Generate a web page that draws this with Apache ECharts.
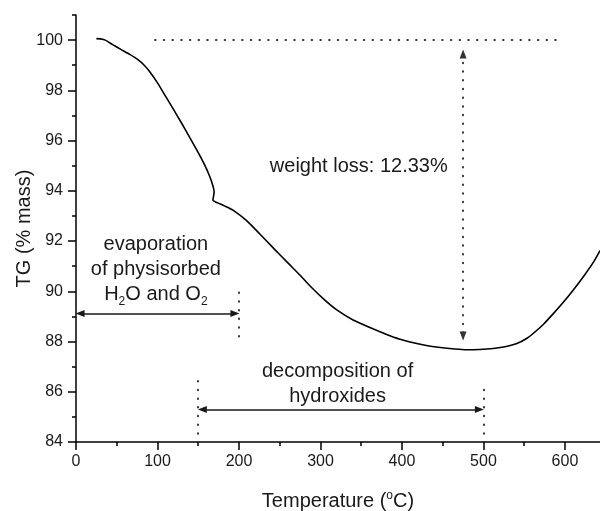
<!DOCTYPE html>
<html>
<head>
<meta charset="utf-8">
<title>TG curve</title>
<script src="https://cdn.jsdelivr.net/npm/echarts@6/dist/echarts.min.js"></script>
<style>
  html, body { margin: 0; padding: 0; background: #fff; }
  #chart { width: 600px; height: 511px; }
</style>
</head>
<body>
<div id="chart"></div>
<script>
// Thermogravimetric curve: temperature (°C) vs. remaining mass (%)
const temperature = [25, 30, 36, 45, 55, 66, 76, 84, 90, 100, 110, 120, 130, 140, 150, 158, 164, 168, 169.5, 168, 174, 182, 193, 209, 225, 244, 260, 275, 290, 305, 320, 340, 365, 390, 410, 430, 447, 465, 479, 495, 512, 528, 541, 553, 561, 574, 586, 598, 610, 623, 635, 643];
const massPercent = [100.06, 100.05, 100.0, 99.82, 99.63, 99.43, 99.22, 98.99, 98.76, 98.30, 97.76, 97.22, 96.67, 96.10, 95.52, 95.02, 94.58, 94.20, 93.95, 93.62, 93.52, 93.40, 93.22, 92.82, 92.30, 91.66, 91.13, 90.64, 90.12, 89.66, 89.26, 88.86, 88.50, 88.17, 87.98, 87.84, 87.76, 87.70, 87.67, 87.68, 87.72, 87.80, 87.92, 88.12, 88.32, 88.70, 89.12, 89.56, 90.04, 90.60, 91.16, 91.62];

// Axis ticks
const xMajorTicks = [0, 100, 200, 300, 400, 500, 600];
const xMinorTicks = [50, 150, 250, 350, 450, 550];
const yMajorTicks = [84, 86, 88, 90, 92, 94, 96, 98, 100];
const yMinorTicks = [85, 87, 89, 91, 93, 95, 97, 99, 101];

// Weight-loss annotation
const startMass = 100;
const weightLoss = 12.33;
const weightLossAt = 475;

// Temperature ranges of the two processes
const evaporationRange = [0, 200];
const evaporationLevel = 89.12;
const decompositionRange = [150, 500];
const decompositionLevel = 85.29;

const curve = temperature.map((t, i) => [t, massPercent[i]]);

const FONT = 'Liberation Sans, Arial, sans-serif';
const INK = '#1a1a1a';

const dotted = { color: '#333', width: 2, type: [0.5, 8.2], cap: 'round' };
const solidArrow = { color: INK, width: 1.5, type: 'solid' };

function seg(a, b, style, arrows) {
  const sym = arrows ? 'triangle' : 'none';
  return [
    { coord: a, symbol: sym, symbolSize: [7, 9], lineStyle: style },
    { coord: b, symbol: sym, symbolSize: [7, 9] }
  ];
}

const arrowGap = 0.55;   // keeps arrow tips clear of the lines they point to
const endGap = 5;

const markLines = [
  // reference level at 100 %
  seg([97, startMass], [592, startMass], dotted, false),
  // weight-loss span
  seg([weightLossAt, startMass - arrowGap], [weightLossAt, startMass - weightLoss + arrowGap], dotted, true),
  // evaporation range
  seg([evaporationRange[0] + endGap, evaporationLevel], [evaporationRange[1] - endGap, evaporationLevel], solidArrow, true),
  seg([evaporationRange[1], 88.2], [evaporationRange[1], 90.05], dotted, false),
  // decomposition range
  seg([decompositionRange[0] + endGap, decompositionLevel], [decompositionRange[1] - endGap, decompositionLevel], solidArrow, true),
  seg([decompositionRange[0], 84.33], [decompositionRange[0], 86.6], dotted, false),
  seg([decompositionRange[1], 84.33], [decompositionRange[1], 86.08], dotted, false)
];

const textRich = {
  t: { fontSize: 20, fontFamily: FONT, color: INK, lineHeight: 25 },
  sub: { fontSize: 12, fontFamily: FONT, color: INK, lineHeight: 5, verticalAlign: 'bottom' }
};

function note(coord, lines) {
  return {
    coord: coord,
    symbol: 'circle',
    symbolSize: 0,
    label: {
      show: true,
      position: 'inside',
      align: 'center',
      verticalAlign: 'middle',
      formatter: lines,
      rich: textRich
    }
  };
}

const chart = echarts.init(document.getElementById('chart'), null, { renderer: 'canvas' });

chart.setOption({
  animation: false,
  backgroundColor: '#fff',
  textStyle: { fontFamily: FONT },
  grid: { left: 76, right: 0, top: 15, bottom: 69, containLabel: false, outerBoundsMode: 'none' },
  xAxis: [
    {
      type: 'value', min: 0, max: 643, interval: 100,
      name: '{t|Temperature (}{sup|o}{t|C)}',
      nameLocation: 'middle', nameGap: 48, nameMoveOverlap: false,
      nameTextStyle: {
        rich: {
          t: { fontSize: 20, fontFamily: FONT, color: INK, lineHeight: 22 },
          sup: { fontSize: 12, fontFamily: FONT, color: INK, lineHeight: 2, verticalAlign: 'top' }
        }
      },
      axisLine: { show: true, onZero: false, lineStyle: { color: '#000', width: 1.5 } },
      axisTick: { show: true, inside: false, length: 8, lineStyle: { color: '#000', width: 1.5 }, customValues: xMajorTicks },
      axisLabel: { fontSize: 16, color: INK, margin: 12, fontFamily: FONT, customValues: xMajorTicks },
      splitLine: { show: false }
    },
    {
      type: 'value', min: 0, max: 643, position: 'bottom', offset: 0,
      axisLine: { show: false },
      axisTick: { show: true, length: 4, lineStyle: { color: '#000', width: 1.5 }, customValues: xMinorTicks },
      axisLabel: { show: false },
      splitLine: { show: false }
    }
  ],
  yAxis: [
    {
      type: 'value', min: 84, max: 101, interval: 2,
      name: 'TG (% mass)',
      nameLocation: 'middle', nameGap: 42, nameRotate: 90, nameMoveOverlap: false,
      nameTextStyle: { fontSize: 20, color: INK, fontFamily: FONT },
      axisLine: { show: true, onZero: false, lineStyle: { color: '#000', width: 1.5 } },
      axisTick: { show: true, length: 8, lineStyle: { color: '#000', width: 1.5 }, customValues: yMajorTicks },
      axisLabel: { fontSize: 16, color: INK, margin: 13, fontFamily: FONT, customValues: yMajorTicks },
      splitLine: { show: false }
    },
    {
      type: 'value', min: 84, max: 101, position: 'left', offset: 0,
      axisLine: { show: false },
      axisTick: { show: true, length: 4, lineStyle: { color: '#000', width: 1.5 }, customValues: yMinorTicks },
      axisLabel: { show: false },
      splitLine: { show: false }
    }
  ],
  series: [
    {
      name: 'TG',
      type: 'line',
      data: curve,
      smooth: 0.2,
      showSymbol: false,
      symbol: 'none',
      lineStyle: { color: '#000', width: 1.6 },
      markLine: {
        silent: true,
        animation: false,
        label: { show: false },
        emphasis: { disabled: true },
        data: markLines
      },
      markPoint: {
        silent: true,
        animation: false,
        data: [
          note([347, 94.98], '{t|weight loss: ' + weightLoss.toFixed(2) + '%}'),
          note([98, 90.85], '{t|evaporation}\n{t|of physisorbed}\n{t|H}{sub|2}{t|O and O}{sub|2}'),
          note([321, 86.32], '{t|decomposition of}\n{t|hydroxides}')
        ]
      }
    }
  ]
});
</script>
</body>
</html>
